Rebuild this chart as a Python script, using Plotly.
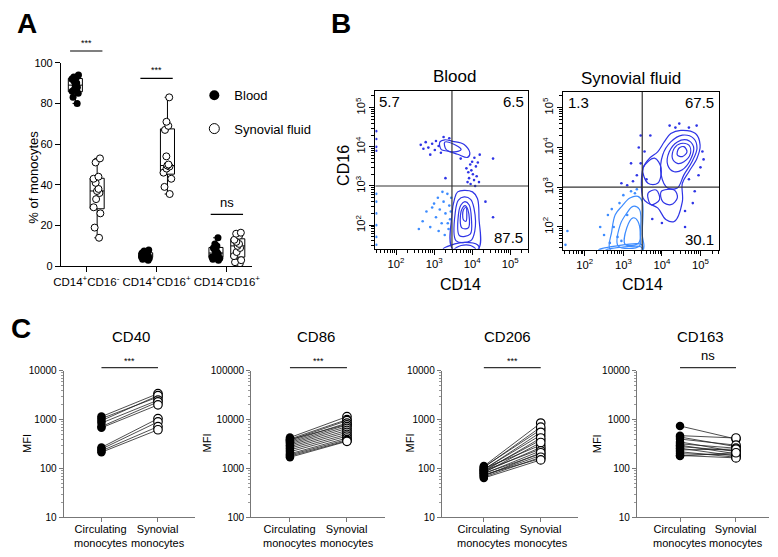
import plotly.graph_objects as go

W, H = 778, 557
def fx(p): return p / W
def fy(p): return 1 - p / H

FONT = "Liberation Sans, Arial, sans-serif"
NARROW = "Liberation Sans Narrow, Liberation Sans, Arial, sans-serif"

# ---------------- Panel A data ----------------
subsets = ["CD14<sup>+</sup>CD16<sup>-</sup>", "CD14<sup>+</sup>CD16<sup>+</sup>", "CD14<sup>-</sup>CD16<sup>+</sup>"]
blood_classical = [94, 93, 93, 92, 91, 90, 89, 88, 87, 86, 85, 83, 80]
blood_intermediate = [8, 7.5, 7, 6.5, 6.2, 6, 5.5, 5, 4.8, 4.5, 4, 3.5, 3]
blood_nonclassical = [14, 11, 10, 9, 8, 7, 6.5, 6, 5, 4.5, 4, 3.5, 3]
syn_classical = [53, 51, 44, 43, 41, 38, 37, 36, 33, 29, 26, 19, 14]
syn_intermediate = [83, 71, 69, 67, 54, 50, 49.5, 49, 48, 46, 43, 39, 35.5]
syn_nonclassical = [16.5, 16, 15, 13, 12, 11, 10, 9, 7, 5, 3, 2, 1.5]
sig_a = ["***", "***", "ns"]

# ---------------- Panel B data (log10 units) ----------------
quad_blood = [3.47, 3.0]
quad_syn = [3.49, 3.0]
pct_blood = ["5.7", "6.5", "87.5"]
pct_syn = ["1.3", "67.5", "30.1"]

blood_contours = [
    [(3.15, 4.12), (3.28, 4.18), (3.49, 4.14), (3.79, 4.06), (3.94, 3.85), (3.88, 3.73), (3.62, 3.81), (3.37, 3.89), (3.19, 3.93)],
    [(3.28, 4.12), (3.49, 4.08), (3.71, 3.93), (3.54, 3.87), (3.32, 3.93)],
    [(3.49, 1.39), (3.47, 2.27), (3.54, 2.68), (3.62, 2.85), (3.79, 2.89), (4.01, 2.85), (4.14, 2.68), (4.18, 2.19), (4.16, 1.39)],
    [(3.58, 1.60), (3.56, 2.35), (3.64, 2.64), (3.79, 2.72), (3.96, 2.66), (4.05, 2.43), (4.07, 1.85), (3.96, 1.60)],
    [(3.67, 1.73), (3.64, 2.27), (3.71, 2.52), (3.81, 2.60), (3.92, 2.52), (3.98, 2.18), (3.95, 1.77)],
    [(3.73, 1.93), (3.71, 2.35), (3.81, 2.50), (3.89, 2.39), (3.90, 1.93)],
    [(3.77, 2.14), (3.77, 2.39), (3.84, 2.45), (3.86, 2.27), (3.84, 2.10)],
    [(3.24, 1.39), (3.45, 1.49), (3.79, 1.56), (4.14, 1.50), (4.18, 1.39)],
    [(3.54, 1.39), (3.71, 1.48), (3.96, 1.48), (4.09, 1.39)],
]
blood_dots_dark = [(2.65, 4.05), (2.78, 4.12), (2.85, 3.98), (2.95, 4.08), (3.02, 3.92), (3.05, 4.15), (3.12, 4.02),
                   (2.72, 3.95), (3.18, 3.85), (3.25, 4.25), (3.40, 4.22), (2.90, 3.80), (3.95, 3.55), (3.98, 3.40),
                   (4.02, 3.30), (3.92, 3.20), (4.05, 3.15), (3.96, 3.05), (4.08, 3.00), (3.90, 3.35), (4.00, 3.62),
                   (4.10, 3.50), (3.85, 3.45), (4.12, 3.25), (4.06, 3.72), (4.15, 3.60), (3.88, 3.10), (4.55, 3.70),
                   (4.55, 2.20), (4.35, 2.60), (3.30, 3.20), (1.48, 4.2), (1.48, 4.0), (1.48, 3.9), (1.48, 4.4),
                   (4.20, 3.80), (3.70, 3.70), (4.18, 3.10)]
blood_dots_light = [(2.70, 2.10), (2.80, 2.35), (2.90, 1.95), (3.00, 2.55), (3.05, 2.20), (3.10, 2.70), (3.15, 2.40),
                    (3.20, 2.05), (3.25, 2.60), (3.30, 2.30), (3.35, 2.80), (3.40, 2.50), (3.42, 2.15), (3.38, 1.90),
                    (3.28, 1.75), (3.45, 2.70), (3.12, 1.85), (2.95, 2.45), (3.22, 2.85), (2.60, 1.90), (1.48, 2.6),
                    (1.48, 2.3), (1.48, 2.0), (1.48, 1.7), (1.48, 2.8), (1.48, 1.5), (3.44, 2.35), (3.36, 2.05)]

syn_contours_dark = [
    [(3.51, 2.73), (3.51, 3.48), (3.68, 3.73), (3.89, 3.89), (4.06, 4.14), (4.23, 4.35), (4.49, 4.43), (4.87, 4.35),
     (4.99, 4.06), (4.91, 3.73), (4.70, 3.39), (4.53, 3.10), (4.53, 2.64), (4.32, 2.14), (4.10, 2.19), (3.89, 2.48), (3.64, 2.60)],
    [(3.98, 3.31), (4.02, 3.81), (4.23, 4.14), (4.53, 4.31), (4.82, 4.23), (4.91, 3.98), (4.78, 3.64), (4.57, 3.31), (4.40, 2.98), (4.15, 2.98)],
    [(4.15, 3.56), (4.19, 3.89), (4.40, 4.14), (4.65, 4.19), (4.82, 4.02), (4.74, 3.69), (4.53, 3.44), (4.32, 3.39)],
    [(4.27, 3.73), (4.32, 3.98), (4.49, 4.10), (4.70, 4.06), (4.74, 3.85), (4.57, 3.64), (4.40, 3.60)],
    [(4.40, 3.81), (4.44, 3.98), (4.57, 4.02), (4.65, 3.89), (4.53, 3.77)],
    [(3.98, 2.89), (4.32, 2.93), (4.40, 2.73), (4.23, 2.56), (4.02, 2.64)],
    [(3.64, 2.85), (3.85, 2.93), (3.94, 2.69), (3.72, 2.56)],
    [(3.51, 3.48), (3.81, 3.73), (3.98, 3.48), (3.89, 3.10), (3.64, 3.10)],
]
syn_contours_light = [
    [(2.66, 1.43), (2.70, 1.89), (2.79, 2.31), (2.96, 2.52), (3.17, 2.73), (3.38, 2.77), (3.49, 2.64), (3.49, 1.81), (3.51, 1.43)],
    [(2.87, 1.52), (2.92, 2.06), (3.09, 2.35), (3.25, 2.52), (3.42, 2.44), (3.44, 1.81), (3.42, 1.52)],
    [(3.05, 1.56), (3.09, 1.98), (3.25, 2.23), (3.38, 2.14), (3.40, 1.60)],
    [(2.36, 1.43), (2.79, 1.52), (3.47, 1.56), (3.51, 1.43)],
    [(2.55, 1.43), (2.95, 1.49), (3.45, 1.50), (3.49, 1.43)],
]
syn_dots_dark = [(3.55, 3.9), (3.45, 3.6), (3.70, 4.30), (4.90, 4.55), (5.05, 3.90), (5.00, 3.50), (4.95, 3.30),
                 (4.70, 3.20), (4.85, 2.90), (4.80, 2.60), (4.60, 2.40), (4.60, 2.00), (4.00, 2.10), (3.75, 2.20),
                 (3.60, 3.20), (4.20, 4.55), (4.45, 4.60), (3.40, 4.00), (3.35, 3.30), (3.25, 3.15), (3.10, 3.05),
                 (3.20, 3.60), (2.95, 3.10), (3.45, 4.30), (4.35, 4.50), (4.70, 4.50), (5.08, 3.70)]
syn_dots_light = [(2.50, 1.80), (2.60, 2.30), (2.75, 2.00), (2.90, 2.60), (3.00, 2.80), (3.10, 2.30), (2.65, 1.60),
                  (3.20, 2.90), (2.85, 1.75), (3.35, 2.95), (2.40, 2.00), (2.95, 1.65), (1.55, 1.90), (1.50, 1.55),
                  (3.30, 2.85), (2.70, 2.45)]

# ---------------- Panel C data ----------------
markers_c = ["CD40", "CD86", "CD206", "CD163"]
sig_c = ["***", "***", "***", "ns"]
cd40_circ = [1150, 1050, 950, 850, 720, 680, 270, 250, 230, 215]
cd40_syn = [3400, 2900, 3100, 2500, 2300, 2000, 1050, 900, 720, 620]
cd86_circ = [4300, 4000, 3900, 3800, 3600, 3400, 3200, 3000, 2800, 2600, 2400, 2200, 2000, 1900, 1800, 1700]
cd86_syn = [11500, 10000, 8000, 9500, 8500, 7800, 7200, 6600, 6000, 5500, 5000, 4600, 4200, 3900, 3700, 3600]
cd206_circ = [112, 108, 105, 100, 97, 95, 92, 90, 87, 85, 82, 80, 78, 75, 72, 70, 67, 64]
cd206_syn = [850, 620, 700, 300, 480, 550, 380, 250, 420, 270, 340, 200, 230, 160, 185, 210, 170, 150]
cd163_circ = [740, 470, 440, 400, 350, 320, 300, 280, 260, 240, 220, 200, 185, 180]
cd163_syn = [400, 420, 280, 300, 220, 260, 200, 230, 180, 250, 170, 190, 165, 210]
circ_c = [cd40_circ, cd86_circ, cd206_circ, cd163_circ]
syn_c = [cd40_syn, cd86_syn, cd206_syn, cd163_syn]
yrange_c = [[1, 4], [2, 5], [1, 4], [1, 4]]
c_tick_labels = ["Circulating<br>monocytes", "Synovial<br>monocytes"]

fig = go.Figure()

# ---------- Panel A traces ----------
blood_sets = [blood_classical, blood_intermediate, blood_nonclassical]
syn_sets = [syn_classical, syn_intermediate, syn_nonclassical]
off = 0.155
for i, (b, s) in enumerate(zip(blood_sets, syn_sets)):
    fig.add_trace(go.Box(x=[i + 1 - off] * len(b), y=b, width=0.2, boxpoints="all", jitter=0.7, pointpos=0,
                         fillcolor="rgba(0,0,0,0)", line=dict(color="black", width=1), whiskerwidth=0.4,
                         marker=dict(color="black", size=7), showlegend=False, xaxis="x", yaxis="y"))
    fig.add_trace(go.Box(x=[i + 1 + off] * len(s), y=s, width=0.2, boxpoints="all", jitter=0.7, pointpos=0,
                         fillcolor="rgba(0,0,0,0)", line=dict(color="black", width=1), whiskerwidth=0.4,
                         marker=dict(color="white", size=7, line=dict(color="black", width=1)),
                         showlegend=False, xaxis="x", yaxis="y"))

fig.add_trace(go.Scatter(x=[None], y=[None], mode="markers", name="Blood",
                         marker=dict(color="black", size=10), legend="legend", xaxis="x", yaxis="y"))
fig.add_trace(go.Scatter(x=[None], y=[None], mode="markers", name="Synovial fluid",
                         marker=dict(color="white", size=10, line=dict(color="black", width=1)),
                         legend="legend2", xaxis="x", yaxis="y"))

# ---------- Panel B traces ----------
DARK = "#2f35e6"
LIGHT = "#3d8cff"

def add_contours(contours, color, xa, ya):
    for c in contours:
        pts = c + [c[0]]
        fig.add_trace(go.Scatter(x=[10 ** p[0] for p in pts], y=[10 ** p[1] for p in pts], mode="lines",
                                 line=dict(color=color, width=1.2, shape="spline", smoothing=1.0),
                                 showlegend=False, hoverinfo="skip", xaxis=xa, yaxis=ya))

def add_dots(dots, color, xa, ya):
    fig.add_trace(go.Scatter(x=[10 ** p[0] for p in dots], y=[10 ** p[1] for p in dots], mode="markers",
                             marker=dict(color=color, size=2.6), showlegend=False, hoverinfo="skip",
                             xaxis=xa, yaxis=ya))

add_dots(blood_dots_light, LIGHT, "x2", "y2")
add_dots(blood_dots_dark, DARK, "x2", "y2")
add_contours(blood_contours, DARK, "x2", "y2")
add_dots(syn_dots_light, LIGHT, "x3", "y3")
add_dots(syn_dots_dark, DARK, "x3", "y3")
add_contours(syn_contours_light, LIGHT, "x3", "y3")
add_contours(syn_contours_dark, DARK, "x3", "y3")

for q, xa, ya in [(quad_blood, "x2", "y2"), (quad_syn, "x3", "y3")]:
    fig.add_trace(go.Scatter(x=[10 ** q[0]] * 2, y=[10, 10 ** 6], mode="lines",
                             line=dict(color="#333", width=1.2), showlegend=False, xaxis=xa, yaxis=ya))
    fig.add_trace(go.Scatter(x=[10, 10 ** 6], y=[10 ** q[1]] * 2, mode="lines",
                             line=dict(color="#333", width=1.2), showlegend=False, xaxis=xa, yaxis=ya))

# ---------- Panel C traces ----------
for k in range(4):
    xa, ya = "x%d" % (k + 4), "y%d" % (k + 4)
    lx, ly = [], []
    for c, s in zip(circ_c[k], syn_c[k]):
        lx += [1, 2, None]
        ly += [c, s, None]
    fig.add_trace(go.Scatter(x=lx, y=ly, mode="lines", line=dict(color="#222", width=0.8),
                             showlegend=False, xaxis=xa, yaxis=ya))
    fig.add_trace(go.Scatter(x=[1] * len(circ_c[k]), y=circ_c[k], mode="markers",
                             marker=dict(color="black", size=8.5), showlegend=False, xaxis=xa, yaxis=ya))
    fig.add_trace(go.Scatter(x=[2] * len(syn_c[k]), y=syn_c[k], mode="markers",
                             marker=dict(color="white", size=8.5, line=dict(color="black", width=1.2)),
                             showlegend=False, xaxis=xa, yaxis=ya))

# ---------- Layout ----------
layout = dict(width=W, height=H, margin=dict(l=0, r=0, t=0, b=0), plot_bgcolor="white", paper_bgcolor="white",
              font=dict(family=FONT, color="black"), boxmode="overlay", showlegend=True)

layout["xaxis"] = dict(domain=[fx(55), fx(250)], range=[0.64, 3.36], anchor="y", tickmode="array",
                       tickvals=[1, 2, 3], ticktext=subsets, tickangle=0, showline=True, linecolor="black",
                       linewidth=1, ticks="outside", ticklen=5, tickcolor="black", tickfont=dict(size=11.5),
                       showgrid=False, zeroline=False)
layout["yaxis"] = dict(domain=[fy(266), fy(58)], range=[0, 100], dtick=20, anchor="x", showline=True,
                       linecolor="black", linewidth=1, ticks="outside", ticklen=5, tickcolor="black",
                       tickfont=dict(size=11), showgrid=False, zeroline=False)

def flow_axes(xd, yd, xr, yr, ya, xa):
    common = dict(type="log", dtick=1, tick0=0, exponentformat="power", showexponent="all", showline=True,
                  linecolor="black", linewidth=1, mirror=True, ticks="outside", ticklen=5, tickcolor="black",
                  tickfont=dict(size=9), showgrid=False, zeroline=False,
                  minor=dict(ticks="outside", ticklen=3, tickcolor="black", showgrid=False))
    xd_ = dict(common, domain=xd, range=xr, anchor=ya, tickangle=0)
    yd_ = dict(common, domain=yd, range=yr, anchor=xa, tickangle=-90)
    return xd_, yd_

layout["xaxis2"], layout["yaxis2"] = flow_axes([fx(375.7), fx(531.7)], [fy(248), fy(86.7)],
                                               [1.46, 5.48], [1.40, 5.43], "y2", "x2")
layout["xaxis3"], layout["yaxis3"] = flow_axes([fx(566.7), fx(726)], [fy(249), fy(87.7)],
                                               [1.43, 5.48], [1.43, 5.40], "y3", "x3")

c_axes_x = [(57.7, 192), (249, 385), (443.3, 582.5), (642.3, 777)]
c_xranges = [[0.33, 2.66], [0.32, 2.66], [0.26, 2.66], [0.23, 2.59]]
for k in range(4):
    n = k + 4
    layout["xaxis%d" % n] = dict(domain=[fx(c_axes_x[k][0]), fx(c_axes_x[k][1])], range=c_xranges[k],
                                 anchor="y%d" % n, tickmode="array", tickvals=[1, 2], ticktext=["", ""],
                                 tickangle=0, showline=True, linecolor="#777", linewidth=1, ticks="outside",
                                 ticklen=4, tickcolor="#777", showgrid=False, zeroline=False)
    layout["yaxis%d" % n] = dict(domain=[fy(522.7), fy(372.7)], type="log", range=yrange_c[k], dtick=1,
                                 tickformat="d", anchor="x%d" % n, showline=True, linecolor="#777",
                                 linewidth=1, ticks="outside", ticklen=4, tickcolor="#777",
                                 tickfont=dict(size=10, family=NARROW), showgrid=False, zeroline=False,
                                 minor=dict(ticks="outside", ticklen=2, tickcolor="#999", showgrid=False))

layout["legend"] = dict(x=fx(191), y=fy(76), xanchor="left", yanchor="top", font=dict(size=13),
                        bgcolor="rgba(0,0,0,0)", itemwidth=30)
layout["legend2"] = dict(x=fx(191), y=fy(110), xanchor="left", yanchor="top", font=dict(size=13),
                         bgcolor="rgba(0,0,0,0)", itemwidth=30)

ann = []
shapes = []
def txt(x, y, s, size, bold=False, angle=0, family=FONT, xanchor="center"):
    ann.append(dict(x=fx(x), y=fy(y), xref="paper", yref="paper", text=("<b>%s</b>" % s if bold else s),
                    showarrow=False, font=dict(size=size, family=family, color="black"), textangle=angle,
                    xanchor=xanchor, yanchor="middle"))

txt(20, 18, "A", 28, bold=True)
txt(341, 18, "B", 28, bold=True)
txt(14, 330, "C", 28, bold=True)
txt(27, 175, "% of monocytes", 13, angle=-90)

bar_y = [46, 74, 213]
for i in range(3):
    shapes.append(dict(type="line", xref="x", yref="paper", x0=i + 1 - 0.23, x1=i + 1 + 0.23,
                       y0=fy(bar_y[i]), y1=fy(bar_y[i]), line=dict(color="black", width=1.2)))
    if sig_a[i] == "ns":
        ann.append(dict(x=i + 1, y=fy(bar_y[i] - 2), xref="x", yref="paper", text=sig_a[i], showarrow=False,
                        font=dict(size=13), yanchor="bottom"))
    else:
        ann.append(dict(x=i + 1, y=fy(bar_y[i] - 1), xref="x", yref="paper", text=sig_a[i], showarrow=False,
                        font=dict(size=9), yanchor="bottom"))

# Panel B texts
txt(456, 72, "Blood", 17)
txt(636.7, 74, "Synovial fluid", 17)
txt(343, 163, "CD16", 16, angle=-90)
txt(462, 285, "CD14", 16)
txt(648, 285, "CD14", 16)
txt(390, 98, pct_blood[0], 15)
txt(516, 98, pct_blood[1], 15)
txt(511, 237, pct_blood[2], 15)
txt(583, 99, pct_syn[0], 15)
txt(706, 99, pct_syn[1], 15)
txt(706, 239, pct_syn[2], 15)

# Panel C texts
title_x = [126.7, 315, 510, 706.7]
mfi_x = [21, 204, 411, 601.5]
for k in range(4):
    txt(title_x[k], 338, markers_c[k], 15)
    txt(mfi_x[k], 447, "MFI", 11, angle=-90, family=NARROW)
    n = k + 4
    for j, lab in enumerate(c_tick_labels):
        ann.append(dict(x=j + 1, y=fy(542), xref="x%d" % n, yref="paper", text=lab, showarrow=False,
                        font=dict(size=11, family=NARROW), yanchor="middle"))
    shapes.append(dict(type="line", xref="x%d" % n, yref="paper", x0=1, x1=2, y0=fy(369.5), y1=fy(369.5),
                       line=dict(color="#333", width=1.2)))
    if sig_c[k] == "ns":
        ann.append(dict(x=1.5, y=fy(367), xref="x%d" % n, yref="paper", text="ns", showarrow=False,
                        font=dict(size=13), yanchor="bottom"))
    else:
        ann.append(dict(x=1.5, y=fy(363), xref="x%d" % n, yref="paper", text="***", showarrow=False,
                        font=dict(size=9), yanchor="middle"))

layout["annotations"] = ann
layout["shapes"] = shapes
fig.update_layout(**layout)
fig.write_html("out.html", config={"displayModeBar": False},
               post_script="document.body.style.margin='0px';document.body.style.padding='0px';")
